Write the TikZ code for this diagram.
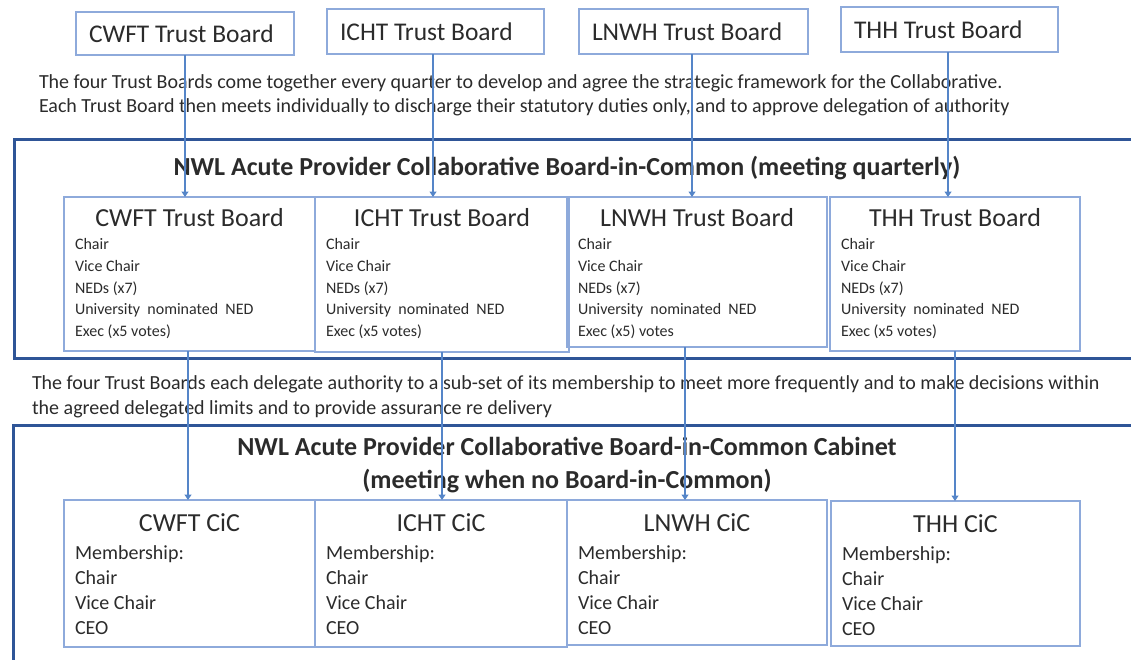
\documentclass[tikz,border=0pt]{standalone}
\usepackage{fontspec}
\setmainfont{Carlito}
\usetikzlibrary{arrows.meta}

\definecolor{thinblue}{HTML}{8EAADB}
\definecolor{arrowblue}{HTML}{5585C8}
\definecolor{frameblue}{HTML}{2F5597}
\definecolor{ink}{HTML}{2B2B2B}

\begin{document}
\begin{tikzpicture}[x=1pt,y=-1pt,
  every node/.style={text=ink, inner sep=0pt, outer sep=0pt},
  frame/.style={draw=frameblue, line width=3pt, anchor=north west},
  unitbox/.style={draw=thinblue, line width=1.3pt, anchor=north west},
  toplabel/.style={anchor=west, font=\fontsize{25.5}{28}\selectfont},
  boxtitle/.style={anchor=base, font=\fontsize{26}{28}\selectfont},
  member/.style={anchor=base west, font=\fontsize{16}{20}\selectfont},
  cicmember/.style={anchor=base west, font=\fontsize{20}{24}\selectfont},
  para/.style={anchor=base west, font=\fontsize{20}{24}\selectfont},
  heading/.style={anchor=base, font=\fontsize{26}{30}\selectfont\bfseries},
  conn/.style={draw=arrowblue, line width=1.2pt, -{Triangle[width=7pt,length=5.5pt]}}
]
\useasboundingbox (0,0) rectangle (1131,659);
\clip (0,0) rectangle (1131,659);

% individual trust boards
\node[unitbox, minimum width=218pt, minimum height=43pt] (t1) at (76,12) {};
\node[unitbox, minimum width=217pt, minimum height=45pt] (t2) at (327,9) {};
\node[unitbox, minimum width=229pt, minimum height=45pt] (t3) at (579,9) {};
\node[unitbox, minimum width=217pt, minimum height=45pt] (t4) at (841,7) {};
\foreach \t/\name in {t1/CWFT, t2/ICHT, t3/LNWH, t4/THH}{
  \node[toplabel] (\t-label) at ([xshift=13pt]\t.west) {\name{} Trust Board};
}

% explanatory notes
\node[para] (p1a) at (39,88) {The four Trust Boards come together every quarter to develop and agree the strategic framework for the Collaborative.};
\node[para] (p1b) at (39,112) {Each Trust Board then meets individually to discharge their statutory duties only, and to approve delegation of authority};
\node[para] (p2a) at (32,389) {The four Trust Boards each delegate authority to a sub-set of its membership to meet more frequently and to make decisions within};
\node[para] (p2b) at (32,414) {the agreed delegated limits and to provide assurance re delivery};

% Board-in-Common
\node[frame, minimum width=1140pt, minimum height=219pt] (bic) at (14,139) {};
\node[heading] (bictitle) at (567,175) {NWL Acute Provider Collaborative Board-in-Common (meeting quarterly)};

\node[unitbox, minimum width=251pt, minimum height=154pt] (b1) at (64,197) {};
\node[unitbox, minimum width=254pt, minimum height=155pt] (b2) at (315,197) {};
\node[unitbox, minimum width=260pt, minimum height=150pt] (b3) at (567,197) {};
\node[unitbox, minimum width=250pt, minimum height=154pt] (b4) at (830,197) {};

\foreach \b/\name/\exec in {b1/CWFT/{Exec (x5 votes)}, b2/ICHT/{Exec (x5 votes)},
                            b3/LNWH/{Exec (x5) votes}, b4/THH/{Exec (x5 votes)}}{
  \node[boxtitle] (\b-title) at ([yshift=-29pt]\b.north) {\name{} Trust Board};
  \node[member] (\b-m1) at ([xshift=11pt,yshift=-52pt]\b.north west) {Chair};
  \node[member] (\b-m2) at ([xshift=11pt,yshift=-74pt]\b.north west) {Vice Chair};
  \node[member] (\b-m3) at ([xshift=11pt,yshift=-96pt]\b.north west) {NEDs (x7)};
  \node[member] (\b-m4) at ([xshift=11pt,yshift=-117pt]\b.north west) {University\ \ nominated\ \ NED};
  \node[member] (\b-m5) at ([xshift=11pt,yshift=-139pt]\b.north west) {\exec};
}

% Board-in-Common Cabinet
\node[frame, minimum width=1140pt, minimum height=300pt] (cab) at (13,425) {};
\node[heading] (cabtitle1) at (567,455) {NWL Acute Provider Collaborative Board-in-Common Cabinet};
\node[heading] (cabtitle2) at (567,488) {(meeting when no Board-in-Common)};

\node[unitbox, minimum width=251pt, minimum height=147pt] (c1) at (64,500) {};
\node[unitbox, minimum width=252pt, minimum height=147pt] (c2) at (315,500) {};
\node[unitbox, minimum width=260pt, minimum height=145pt] (c3) at (567,500) {};
\node[unitbox, minimum width=249pt, minimum height=145pt] (c4) at (831,501) {};

\foreach \c/\name in {c1/CWFT, c2/ICHT, c3/LNWH, c4/THH}{
  \node[boxtitle] (\c-title) at ([yshift=-31pt]\c.north) {\name{} CiC};
  \node[cicmember] (\c-m1) at ([xshift=11pt,yshift=-59pt]\c.north west) {Membership:};
  \node[cicmember] (\c-m2) at ([xshift=11pt,yshift=-84pt]\c.north west) {Chair};
  \node[cicmember] (\c-m3) at ([xshift=11pt,yshift=-109pt]\c.north west) {Vice Chair};
  \node[cicmember] (\c-m4) at ([xshift=11pt,yshift=-134pt]\c.north west) {CEO};
}

% delegation arrows
\draw[conn] (t1.south) -- (t1.south |- b1.north);
\draw[conn] ([xshift=-2.5pt]t2.south) -- ([xshift=-2.5pt]t2.south |- b2.north);
\draw[conn] ([xshift=-1.5pt]t3.south) -- ([xshift=-1.5pt]t3.south |- b3.north);
\draw[conn] ([xshift=-1.5pt]t4.south) -- ([xshift=-1.5pt]t4.south |- b4.north);

\draw[conn] ([xshift=-1.5pt]b1.south) -- ([xshift=-1.5pt]b1.south |- c1.north);
\draw[conn] (b2.south) -- (b2.south |- c2.north);
\draw[conn] ([xshift=-12pt]b3.south) -- ([xshift=-12pt]b3.south |- c3.north);
\draw[conn] (b4.south) -- (b4.south |- c4.north);
\end{tikzpicture}
\end{document}
